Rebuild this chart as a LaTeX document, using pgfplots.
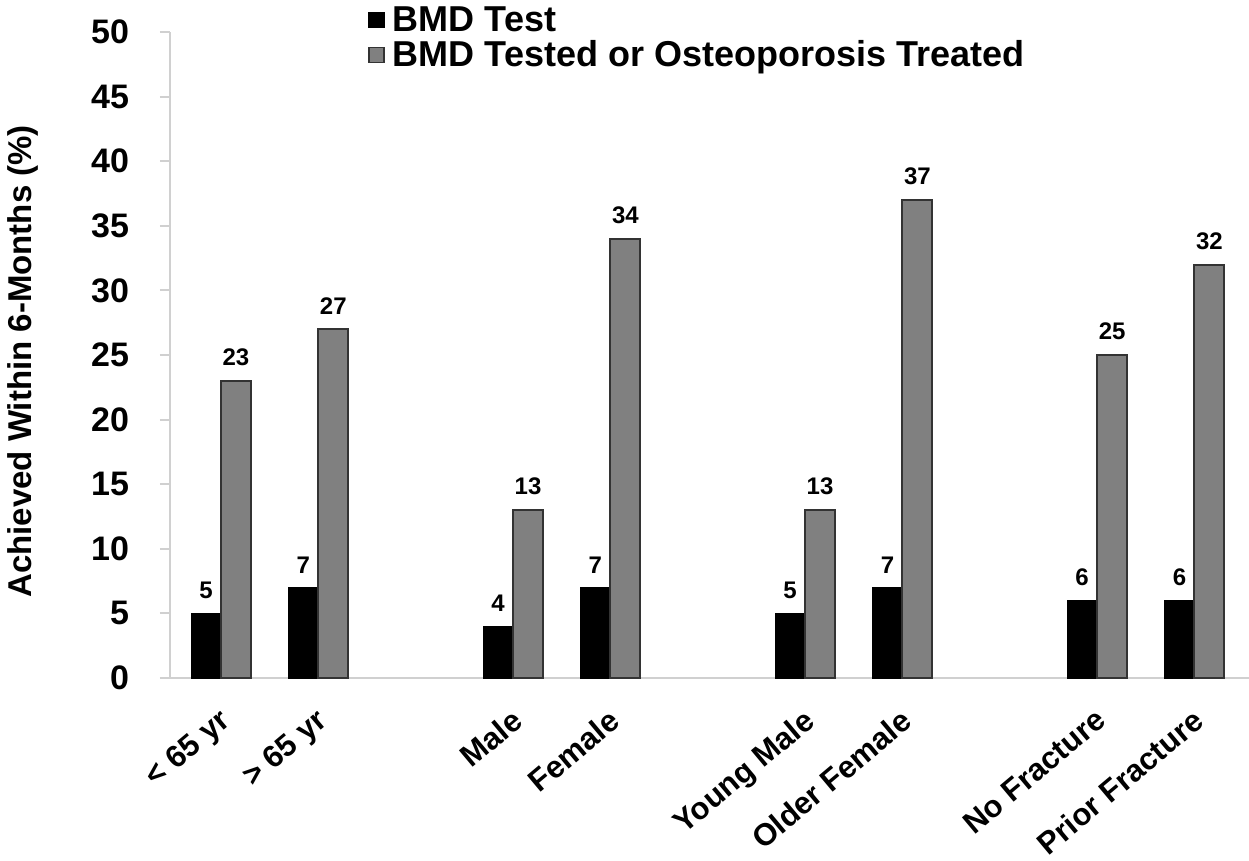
\documentclass[border=0pt]{standalone}
\usepackage{fontspec}
\setmainfont{Liberation Sans}
\usepackage{pgfplots}
\pgfplotsset{compat=1.18}
\definecolor{bargray}{HTML}{808080}
\definecolor{axisgray}{HTML}{D0D0D0}
\begin{document}
\begin{tikzpicture}
\begin{axis}[
  name=main,
  scale only axis,
  width=539.5pt, height=323pt,
  xmin=-0.524, xmax=10.56,
  ymin=0, ymax=50,
  ytick={0,5,...,50},
  xtick={0,1,3,4,6,7,9,10},
  xticklabels={{< 65 yr},{> 65 yr},Male,Female,{Young Male},{Older Female},{No Fracture},{Prior Fracture}},
  axis x line*=bottom, axis y line*=left,
  axis line style={draw=axisgray, line width=1pt, -},
  tick align=outside,
  major tick length=5pt,
  ytick style={draw=axisgray, line width=1pt},
  xtick style={draw=none},
  /pgf/number format/assume math mode=true,
  yticklabel style={font=\bfseries\fontsize{17}{17}\selectfont, xshift=-12pt},
  xticklabel style={font=\bfseries\fontsize{15.5}{15.5}\selectfont, rotate=40, anchor=north east, inner sep=1pt, xshift=-6.3pt, yshift=-5.2pt},
  ylabel={Achieved Within 6-Months (\%)},
  ylabel style={font=\bfseries\fontsize{16.5}{16.5}\selectfont, at={(axis description cs:-0.115,0.49)}, anchor=south},
  ybar=0pt,
  bar width=0.308,
  nodes near coords,
  every node near coord/.append style={font=\bfseries\fontsize{12}{12}\selectfont, inner sep=0pt, yshift=7pt, text=black},
  legend style={at={(rel axis cs:0.1835,1.045)}, anchor=north west, draw=none, fill=none,
    font=\bfseries\fontsize{18}{18}\selectfont, inner sep=0pt, row sep=0pt,
    nodes={inner sep=1.5pt}},
  legend cell align=left,
  legend image code/.code={\draw[#1, line width=0.6pt] (0pt,-3.75pt) rectangle (7.5pt,3.75pt);
    \path[draw=none, fill=none] (0pt,0pt) rectangle (10.5pt,0.1pt);},
  clip=false,
]
\addplot[fill=black, draw=black] coordinates {
  (0,5)(1,7)(3,4)(4,7)(6,5)(7,7)(9,6)(10,6)
};
\addlegendentry{BMD Test}
\addplot[fill=bargray, draw=black!80, line width=1pt] coordinates {
  (0,23)(1,27)(3,13)(4,34)(6,13)(7,37)(9,25)(10,32)
};
\addlegendentry{BMD Tested or Osteoporosis Treated}
\end{axis}
\pgfresetboundingbox
\path[use as bounding box] (main.south west) ++(-85pt,-91.5pt) rectangle ++(624.5pt,430.5pt);
\end{tikzpicture}
\end{document}
